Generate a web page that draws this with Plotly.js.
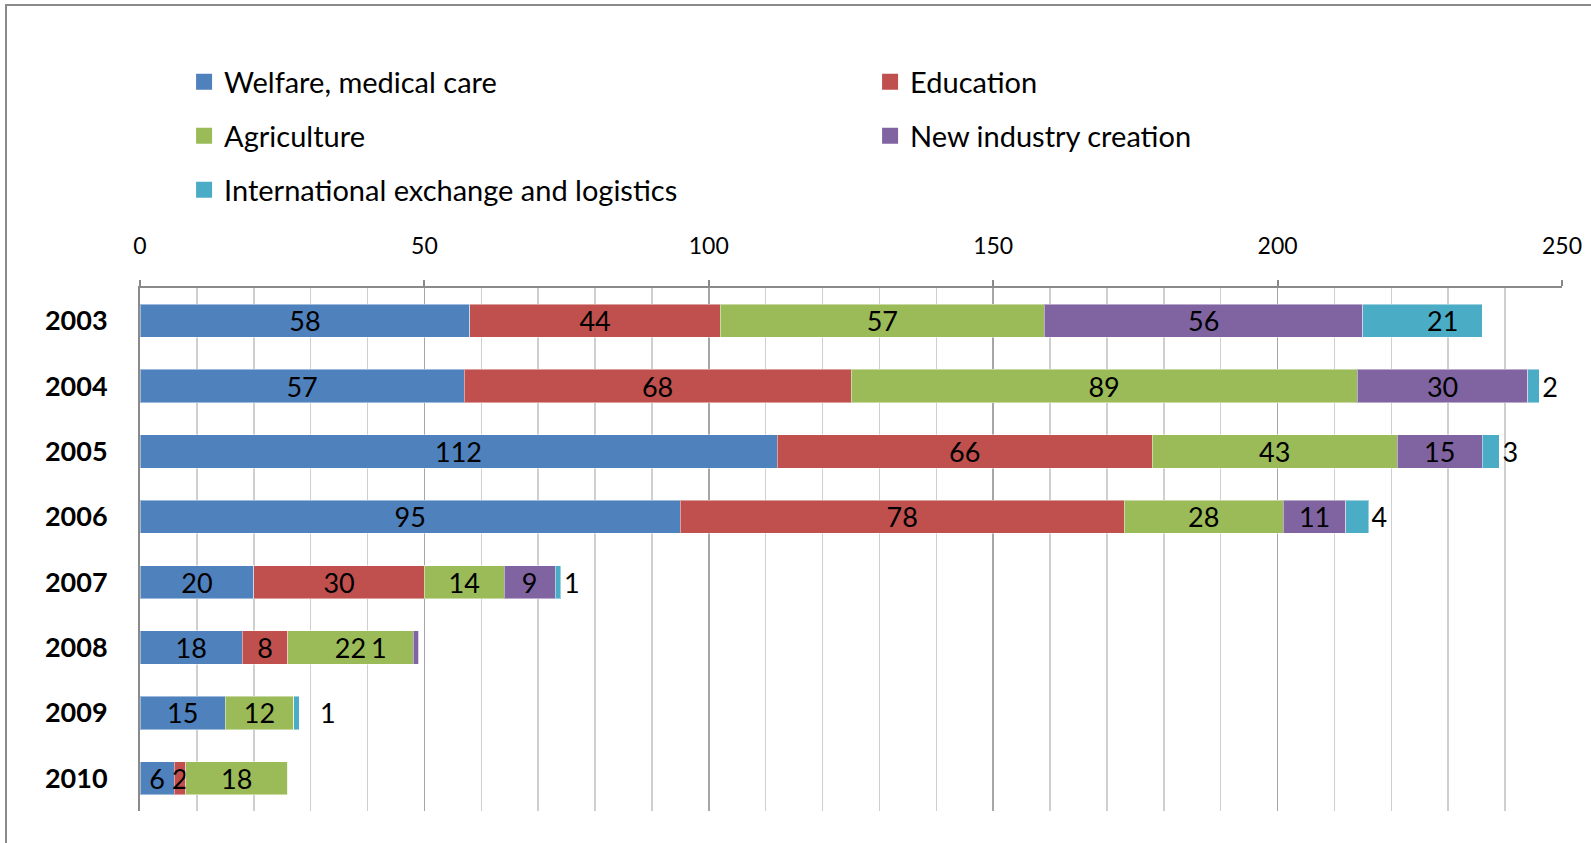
<!DOCTYPE html>
<html><head><meta charset="utf-8">
<script src="https://cdn.plot.ly/plotly-3.0.1.min.js"></script>
<style>
html,body{margin:0;padding:0;background:#fff;overflow:hidden}
#chart{position:absolute;left:0;top:0;width:1591px;height:843px}
#frame{position:absolute;left:5px;top:4px;width:1700px;height:1000px;border:2px solid #8a8a8a;pointer-events:none;z-index:5}
</style></head><body>
<div id="chart"></div><div id="frame"></div>
<script>
const years = ['2003','2004','2005','2006','2007','2008','2009','2010'];
const seriesNames = ['Welfare, medical care','Education','Agriculture','New industry creation','International exchange and logistics'];
const welfare      = [58, 57, 112, 95, 20, 18, 15, 6];
const education    = [44, 68, 66, 78, 30, 8, 0, 2];
const agriculture  = [57, 89, 43, 28, 14, 22, 12, 18];
const newIndustry  = [56, 30, 15, 11, 9, 1, 0, 0];
const intlExchange = [21, 2, 3, 4, 1, 0, 1, 0];
const xTicks = [0, 50, 100, 150, 200, 250];

const series = [welfare, education, agriculture, newIndustry, intlExchange];
const colors = ['#4F81BD', '#C0504D', '#9BBB59', '#8064A2', '#4BACC6'];
const FONT = 'Lato, "Open Sans", sans-serif';
const LABEL_SIZE = 27;

// labels that the original chart shows displaced from their segments
const displaced = [
  {series: 4, year: '2003', anchor: 'center', xanchor: 'center', shift: 20},
  {series: 3, year: '2008', anchor: 'start', xanchor: 'right', shift: -24},
  {series: 4, year: '2009', anchor: 'end', xanchor: 'left', shift: 19}
];

const traces = [];
const annotations = [];
series.forEach((vals, si) => {
  const text = vals.map(v => v > 0 ? String(v) : '');
  const pos = vals.map((v, i) => (si === 4 && i > 0) ? 'outside' : 'inside');
  displaced.filter(d => d.series === si).forEach(d => {
    const i = years.indexOf(d.year);
    pos[i] = 'none';
    text[i] = '';
    let start = 0;
    for (let k = 0; k < si; k++) start += series[k][i];
    const xPos = d.anchor === 'start' ? start : d.anchor === 'end' ? start + vals[i] : start + vals[i] / 2;
    annotations.push({
      x: xPos, y: i,
      xref: 'x', yref: 'y', text: String(vals[i]), showarrow: false,
      xanchor: d.xanchor, yanchor: 'middle', xshift: d.shift,
      font: {family: FONT, size: LABEL_SIZE, color: '#000'}
    });
  });
  traces.push({
    type: 'bar', orientation: 'h', name: seriesNames[si],
    x: vals, y: years, text: text, textposition: pos, textangle: 0,
    insidetextanchor: 'middle', cliponaxis: false,
    textfont: {family: FONT, size: LABEL_SIZE, color: '#000'},
    marker: {color: colors[si], line: {color: 'rgba(255,255,255,0.45)', width: 1}},
    showlegend: false, hoverinfo: 'x+name'
  });
});

// legend entries (square markers)
const legendOf = ['legend', 'legend', 'legend2', 'legend2', 'legend3'];
seriesNames.forEach((n, si) => {
  traces.push({
    type: 'scatter', mode: 'markers', name: n, x: [null], y: [null],
    marker: {symbol: 'square', size: 17, color: colors[si], line: {width: 0}},
    legend: legendOf[si], showlegend: true, hoverinfo: 'skip'
  });
});

const legendBase = {
  orientation: 'h', x: 0.031, xanchor: 'left', yanchor: 'middle',
  entrywidth: 641, entrywidthmode: 'pixels', itemsizing: 'trace',
  font: {family: FONT, size: 29, color: '#000'}, bgcolor: 'rgba(0,0,0,0)',
  traceorder: 'normal', itemclick: false, itemdoubleclick: false
};

const layout = {
  width: 1591, height: 843,
  margin: {l: 140, r: 29, t: 288, b: 32, pad: 0},
  barmode: 'stack', bargap: 0.49,
  paper_bgcolor: '#fff', plot_bgcolor: '#fff',
  font: {family: FONT, color: '#000'},
  showlegend: true,
  legend: Object.assign({}, legendBase, {y: 1.394}),
  legend2: Object.assign({}, legendBase, {y: 1.2906}),
  legend3: Object.assign({}, legendBase, {y: 1.1874}),
  uniformtext: {mode: 'show', minsize: LABEL_SIZE},
  xaxis: {
    side: 'top', range: [0, 250], autorange: false, tickmode: 'array', tickvals: xTicks,
    ticktext: xTicks.map(String),
    showgrid: true, gridcolor: '#a6a6a6', gridwidth: 1.5,
    minor: {dtick: 10, tick0: 0, showgrid: true, gridcolor: '#cfcfcf', gridwidth: 1.5},
    showline: true, linecolor: '#8a8a8a', linewidth: 2,
    ticks: 'outside', ticklen: 6, tickwidth: 2, tickcolor: '#8a8a8a',
    tickfont: {family: FONT, size: 23, color: '#000'}, ticklabelstandoff: 17,
    zeroline: false, fixedrange: true
  },
  yaxis: {
    type: 'category', categoryorder: 'array', categoryarray: years,
    autorange: false, range: [years.length - 0.5, -0.5],
    showline: true, linecolor: '#8a8a8a', linewidth: 2, showgrid: false, zeroline: false,
    ticks: '', tickfont: {family: FONT, size: 27, color: '#000', weight: 'bold'},
    ticklabelstandoff: 25, fixedrange: true
  },
  annotations: annotations
};

Plotly.newPlot('chart', traces, layout, {displayModeBar: false, staticPlot: true});
</script>
</body></html>
